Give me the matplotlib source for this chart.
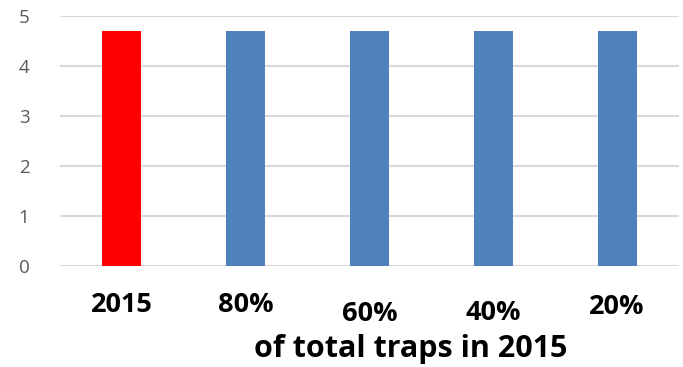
import matplotlib.pyplot as plt

# chart data
categories = ['2015', '80%', '60%', '40%', '20%']
values = [4.7, 4.7, 4.7, 4.7, 4.7]
bar_colors = ['#FF0000', '#4F81BD', '#4F81BD', '#4F81BD', '#4F81BD']
label_offsets = [-0.156, -0.156, -0.192, -0.190, -0.164]
y_ticks = [0, 1, 2, 3, 4, 5]
x_title = 'of total traps in 2015'


def main():
    plt.rcParams['font.family'] = ['Open Sans', 'DejaVu Sans']

    fig = plt.figure(figsize=(6.83, 3.67), dpi=100)
    ax = fig.add_axes([60 / 683, 1 - 266 / 367, 619 / 683, 250 / 367])

    x = list(range(len(categories)))
    ax.bar(x, values, width=0.315, color=bar_colors, zorder=3)

    ax.set_xlim(-0.5, len(categories) - 0.5)
    ax.set_ylim(0, 5)
    ax.set_yticks(y_ticks)
    ax.tick_params(axis='y', length=0, pad=22, labelsize=13.5, labelcolor='#595959')
    ax.set_xticks([])
    ax.grid(axis='y', color='#D9D9D9', linewidth=1.5, zorder=0)
    for s in ax.spines.values():
        s.set_visible(False)

    # category labels sit at slightly different heights in the original
    for xi, lab, off in zip(x, categories, label_offsets):
        ax.text(xi, off, lab, transform=ax.get_xaxis_transform(),
                ha='center', va='center', fontsize=19.5, fontweight='bold')

    fig.text(411 / 683, 1 - 349 / 367, x_title, ha='center', va='center',
             fontsize=22, fontweight='bold')

    fig.savefig('out.png', dpi=100)


if __name__ == "__main__":
    main()
